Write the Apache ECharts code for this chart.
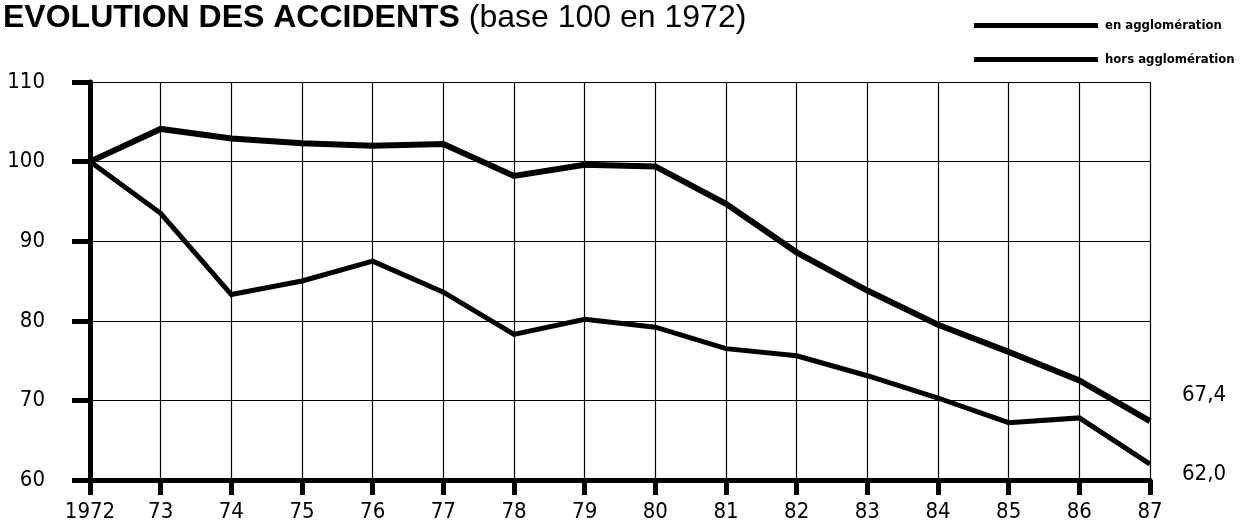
<!DOCTYPE html>
<html>
<head>
<meta charset="utf-8">
<script src="https://cdn.jsdelivr.net/npm/echarts@6/dist/echarts.min.js"></script>
<style>
  html, body { margin: 0; padding: 0; background: #fff; }
  #chart { width: 1249px; height: 526px; }
</style>
</head>
<body>
<div id="chart"></div>
<script>
// years on the x axis
const years = ['1972', '73', '74', '75', '76', '77', '78', '79', '80', '81', '82', '83', '84', '85', '86', '87'];

// base 100 en 1972
const enAgglo = [100, 104.1, 102.9, 102.3, 102.0, 102.2, 98.2, 99.6, 99.4, 94.7, 88.6, 83.8, 79.5, 76.1, 72.5, 67.4];
const horsAgglo = [100, 93.5, 83.3, 85.0, 87.5, 83.6, 78.3, 80.2, 79.2, 76.5, 75.6, 73.1, 70.3, 67.2, 67.8, 62.0];

const seriesNames = ['en agglomération', 'hors agglomération'];

const narrow = "'DejaVu Sans Condensed', 'Liberation Sans Narrow', sans-serif";
const fmt = v => v.toFixed(1).replace('.', ',');

const chart = echarts.init(document.getElementById('chart'), null, { renderer: 'canvas' });

chart.setOption({
  backgroundColor: '#fff',
  animation: false,
  title: {
    left: -2,
    top: -3,
    text: '{b|EVOLUTION DES ACCIDENTS}{n| (base 100 en 1972)}',
    textStyle: {
      rich: {
        b: { fontFamily: "'Liberation Sans', Arial, sans-serif", fontWeight: 'bold', fontSize: 32, color: '#000' },
        n: { fontFamily: "'Liberation Sans', Arial, sans-serif", fontWeight: 'normal', fontSize: 32, color: '#000' },
      },
    },
  },
  legend: {
    orient: 'vertical',
    left: 969,
    top: 14,
    itemGap: 21,
    itemWidth: 124,
    itemHeight: 5,
    icon: 'rect',
    data: seriesNames,
    textStyle: {
      fontFamily: narrow,
      fontWeight: 'bold',
      fontSize: 13,
      color: '#000',
      padding: [0, 0, 0, 2],
    },
  },
  grid: { left: 90, right: 99, top: 82, bottom: 46, containLabel: false },
  xAxis: {
    type: 'category',
    data: years,
    boundaryGap: false,
    axisLine: { show: true, onZero: false, lineStyle: { color: '#000', width: 5 } },
    axisTick: { show: true, interval: 0, length: 15, lineStyle: { color: '#000', width: 5 } },
    axisLabel: { interval: 0, margin: 21, fontFamily: narrow, fontSize: 22, color: '#000' },
    splitLine: { show: true, interval: 0, lineStyle: { color: '#000', width: 1.2 } },
  },
  yAxis: {
    type: 'value',
    min: 60,
    max: 110,
    interval: 10,
    axisLine: { show: true, lineStyle: { color: '#000', width: 5 } },
    axisTick: { show: true, length: 18, lineStyle: { color: '#000', width: 5 } },
    axisLabel: { margin: 45, fontFamily: narrow, fontSize: 22, color: '#000' },
    splitLine: { show: true, lineStyle: { color: '#000', width: 1.2 } },
  },
  series: [
    {
      name: seriesNames[0],
      type: 'line',
      data: enAgglo,
      symbol: 'none',
      z: 5,
      itemStyle: { color: '#000' },
      lineStyle: { color: '#000', width: 6, join: 'miter' },
      endLabel: {
        show: true,
        formatter: p => fmt(p.value),
        distance: 32,
        offset: [0, -26],
        fontFamily: narrow,
        fontSize: 22,
        color: '#000',
      },
    },
    {
      name: seriesNames[1],
      type: 'line',
      data: horsAgglo,
      symbol: 'none',
      z: 5,
      itemStyle: { color: '#000' },
      lineStyle: { color: '#000', width: 5, join: 'miter' },
      endLabel: {
        show: true,
        formatter: p => fmt(p.value),
        distance: 32,
        offset: [0, 10],
        fontFamily: narrow,
        fontSize: 22,
        color: '#000',
      },
    },
  ],
});

window.addEventListener('resize', () => chart.resize());
</script>
</body>
</html>
